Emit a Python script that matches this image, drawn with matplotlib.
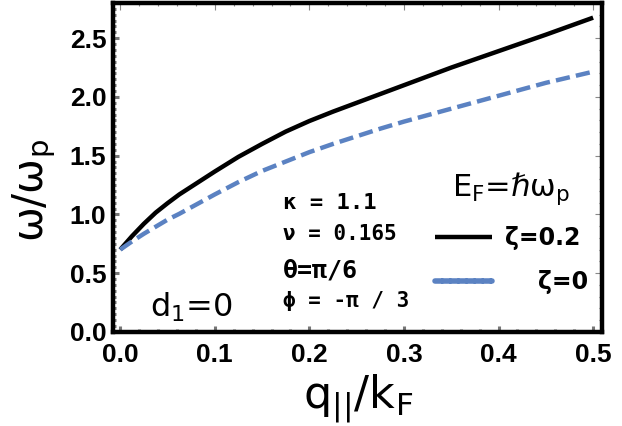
import matplotlib
matplotlib.use("Agg")
import matplotlib.pyplot as plt
from matplotlib.ticker import MultipleLocator

# values
q = [0.0, 0.0125, 0.025, 0.0375, 0.05, 0.0625, 0.075, 0.1, 0.125, 0.15, 0.175,
     0.2, 0.225, 0.25, 0.275, 0.3, 0.35, 0.4, 0.45, 0.5]
omega_zeta02 = [0.70, 0.815, 0.92, 1.015, 1.095, 1.17, 1.235, 1.365, 1.49, 1.60, 1.705,
                1.795, 1.875, 1.95, 2.025, 2.10, 2.25, 2.39, 2.53, 2.675]
omega_zeta0 = [0.70, 0.77, 0.835, 0.895, 0.955, 1.005, 1.06, 1.17, 1.275, 1.37, 1.45,
               1.53, 1.60, 1.665, 1.73, 1.79, 1.90, 2.01, 2.12, 2.215]

x_ticks = [0.0, 0.1, 0.2, 0.3, 0.4, 0.5]
y_ticks = [0.0, 0.5, 1.0, 1.5, 2.0, 2.5]
params = ["κ = 1.1", "ν = 0.165", "θ=π/6", "ϕ = -π / 3"]
param_sizes = [16, 15, 18, 15]

plt.rcParams["font.family"] = ["Liberation Sans", "DejaVu Sans"]
plt.rcParams["mathtext.fontset"] = "dejavusans"

fig = plt.figure(figsize=(6.22, 4.26), dpi=100)
ax = fig.add_axes([0.182, 0.221, 0.786, 0.772])

blue = "#5b82c2"
ax.plot(q, omega_zeta02, color="black", lw=3.2, label="ζ=0.2", solid_capstyle="butt")
ax.plot(q, omega_zeta0, color=blue, lw=3.2, dashes=(3.2, 1.4), label="    ζ=0")

ax.set_xlim(-0.0074, 0.5095)
ax.set_ylim(0, 2.8)
ax.set_xticks(x_ticks)
ax.set_yticks(y_ticks)
ax.xaxis.set_minor_locator(MultipleLocator(0.02))
ax.yaxis.set_minor_locator(MultipleLocator(0.05))

for s in ax.spines.values():
    s.set_linewidth(3.2)
    s.set_color("black")

ax.tick_params(which="both", direction="in", color="#777777", width=2.2)
ax.tick_params(which="major", length=4)
ax.tick_params(which="minor", length=2.5)
ax.tick_params(axis="x", which="major", pad=8)
ax.tick_params(axis="y", which="major", pad=5)
for lab in ax.get_xticklabels() + ax.get_yticklabels():
    lab.set_fontsize(19)
    lab.set_fontweight("bold")

# thin ticks on top and right
top = ax.secondary_xaxis("top")
top.set_xticks(x_ticks)
top.xaxis.set_minor_locator(MultipleLocator(0.02))
top.tick_params(which="both", direction="in", color="#888888", width=0.8, labeltop=False)
top.tick_params(which="major", length=5)
top.tick_params(which="minor", length=2.5)
right = ax.secondary_yaxis("right")
right.set_yticks(y_ticks)
right.yaxis.set_minor_locator(MultipleLocator(0.1))
right.tick_params(which="both", direction="in", color="#888888", width=0.8, labelright=False)
right.tick_params(which="major", length=5)
right.tick_params(which="minor", length=2.5)
for sax in (top, right):
    for s in sax.spines.values():
        s.set_visible(False)

ax.set_xlabel(r"$\mathregular{q_{||}/k_F}$", fontsize=32, family=["DejaVu Sans"])
ax.xaxis.set_label_coords(0.5, -0.125)
ax.xaxis.label.set_va("top")
ax.set_ylabel(r"$\mathregular{\omega/\omega_p}$", fontsize=30, family=["DejaVu Sans"])
ax.yaxis.set_label_coords(-0.112, 0.43)

# parameter block
py = [0.392, 0.298, 0.188, 0.094]
for t, y, fs in zip(params, py, param_sizes):
    ax.text(0.348, y, t, transform=ax.transAxes, fontsize=fs, fontweight="bold",
            family=["DejaVu Sans Mono"], va="center")

ax.text(0.076, 0.046, r"$\mathregular{d_1}$=0", transform=ax.transAxes,
        fontsize=23, family=["DejaVu Sans"], va="baseline")

leg = ax.legend(loc="lower right", bbox_to_anchor=(0.99, 0.085), frameon=False,
                handlelength=2.4, handletextpad=0.55, labelspacing=0.85,
                borderaxespad=0,
                prop={"size": 17, "weight": "bold", "family": ["DejaVu Sans"]},
                title=r"E$\mathregular{_F}$=ℏω$\mathregular{_p}$",
                title_fontproperties={"size": 22, "family": ["DejaVu Sans"]})
leg._legend_box.sep = 14
# legend sample of the dashed curve is drawn as a chain of short rounded dashes
hl = leg.get_lines()[1]
hl.set_dashes((1.2, 0.25))
hl.set_dash_capstyle("round")
hl.set_linewidth(4)

fig.savefig("out.png", dpi=100)
